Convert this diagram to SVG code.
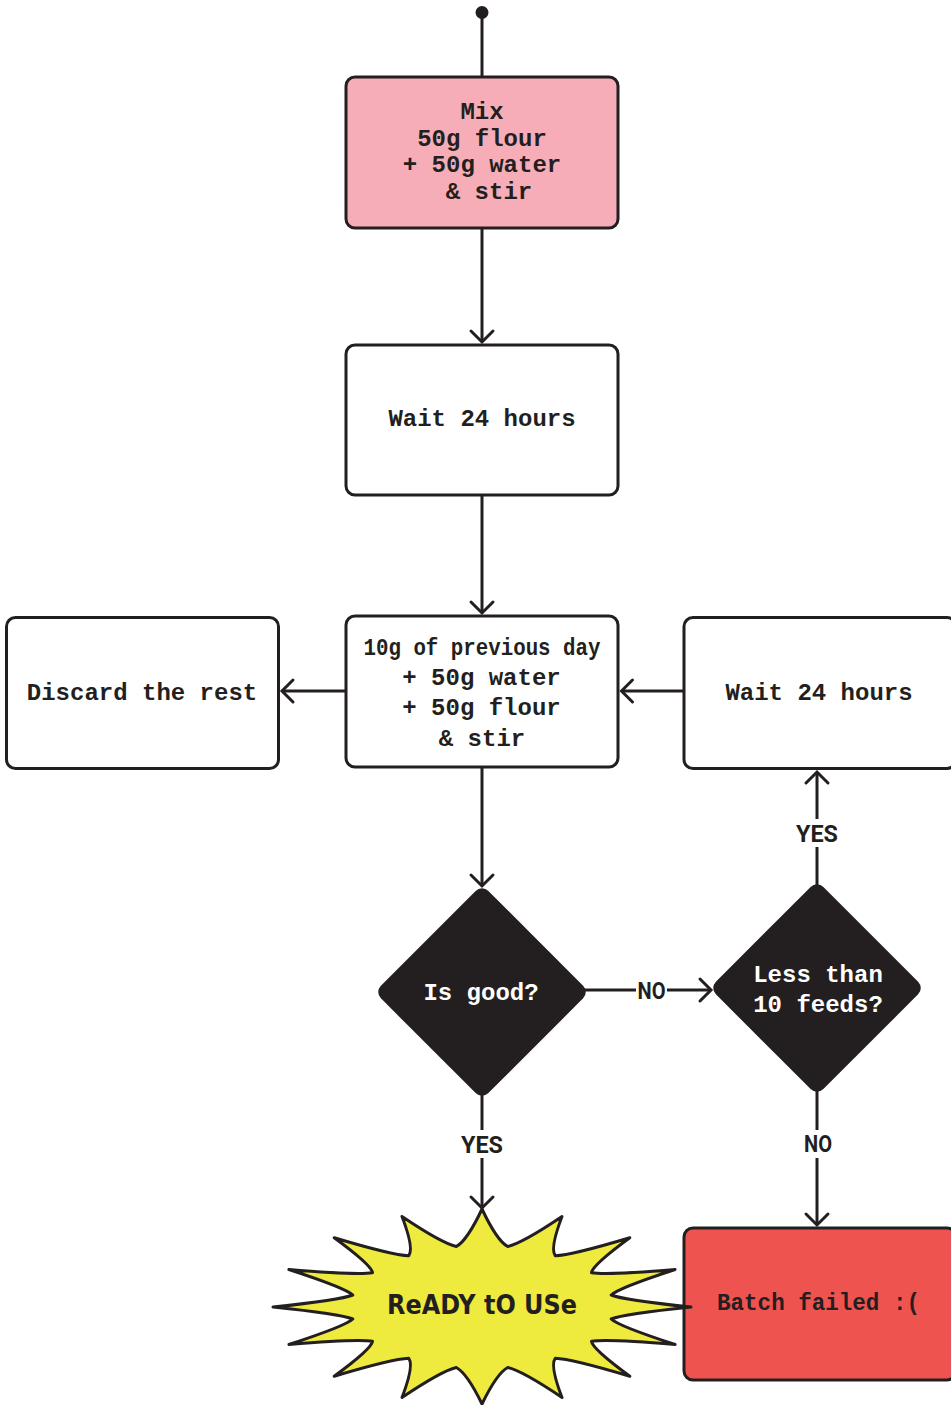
<svg xmlns="http://www.w3.org/2000/svg" width="951" height="1405" viewBox="0 0 951 1405">
<style>
.box{stroke:#231f20;stroke-width:3}
.t{font-family:"Liberation Mono","DejaVu Sans Mono",monospace;font-weight:700;font-size:24px;fill:#231f20;text-anchor:middle}
.tw{fill:#ffffff}
.ln{fill:none;stroke:#231f20;stroke-width:3}
.lbl{font-family:Roboto,"Liberation Sans",sans-serif;font-weight:700;font-size:24px;fill:#231f20;text-anchor:middle}
</style>
<defs>
<marker id="arr" markerWidth="30" markerHeight="30" refX="15" refY="15" orient="auto" markerUnits="userSpaceOnUse" viewBox="0 0 30 30" overflow="visible">
<path d="M4,4 L15,15 L4,26" fill="none" stroke="#231f20" stroke-width="3" stroke-linecap="round"/>
</marker>
</defs>
<rect width="951" height="1405" fill="#ffffff"/>

<g id="start"><circle cx="482" cy="12.5" r="6.5" fill="#231f20"/></g>

<g id="mix">
<rect class="box" x="346" y="77" width="272" height="151" rx="9" fill="#f7adb7"/>
<text class="t" x="482" y="119">Mix</text>
<text class="t" x="482" y="145.5">50g flour</text>
<text class="t" x="482" y="172">+ 50g water</text>
<text class="t" x="489" y="198.5">&amp; stir</text>
</g>

<g id="wait1">
<rect class="box" x="346" y="345" width="272" height="150" rx="9" fill="#ffffff"/>
<text class="t" x="482" y="426">Wait 24 hours</text>
</g>

<g id="feed">
<rect class="box" x="346" y="616" width="272" height="151" rx="9" fill="#ffffff"/>
<text class="t" x="482" y="655" textLength="237" lengthAdjust="spacingAndGlyphs">10g of previous day</text>
<text class="t" x="481.5" y="684.5">+ 50g water</text>
<text class="t" x="481.5" y="715">+ 50g flour</text>
<text class="t" x="482" y="745.5">&amp; stir</text>
</g>

<g id="discard">
<rect class="box" x="6.5" y="617.5" width="272" height="151" rx="9" fill="#ffffff"/>
<text class="t" x="142" y="700">Discard the rest</text>
</g>

<g id="wait2">
<rect class="box" x="684" y="617.5" width="272" height="151" rx="9" fill="#ffffff"/>
<text class="t" x="819" y="700">Wait 24 hours</text>
</g>

<g id="isgood">
<rect x="-76" y="-76" width="152" height="152" rx="9" fill="#231f20" transform="translate(482,992) rotate(45)"/>
<text class="t tw" x="481" y="1000">Is good?</text>
</g>

<g id="lessthan">
<rect x="-76" y="-76" width="152" height="152" rx="9" fill="#231f20" transform="translate(817,988) rotate(45)"/>
<text class="t tw" x="818" y="982">Less than</text>
<text class="t tw" x="818" y="1012">10 feeds?</text>
</g>

<g id="failed">
<rect class="box" x="684" y="1228" width="272" height="152" rx="9" fill="#ef5350"/>
<text class="t" x="717" y="1310" style="text-anchor:start" textLength="203" lengthAdjust="spacingAndGlyphs">Batch failed :(</text>
</g>

<g id="ready">
<path fill="#efea3e" stroke="#231f20" stroke-width="3" stroke-linejoin="round" d="M482,1209 Q496.9,1240.7 507.7,1246.5 Q522.4,1243.1 562,1216.5 Q549.8,1248.4 555.2,1255.7 Q571.4,1255.2 629.8,1237.7 Q592.4,1265.1 591.5,1272.7 Q606.9,1275.2 675.1,1269.5 Q618.2,1288.1 611.2,1295 Q623.3,1300 691,1307 Q623.3,1314 611.2,1319 Q618.2,1325.9 675.1,1344.5 Q606.9,1338.8 591.5,1341.3 Q592.4,1348.9 629.8,1376.3 Q571.4,1358.8 555.2,1358.3 Q549.8,1365.6 562,1397.5 Q522.4,1370.9 507.7,1367.5 Q496.9,1373.3 482,1404 Q467.1,1373.3 456.3,1367.5 Q441.6,1370.9 402,1397.5 Q414.2,1365.6 408.8,1358.3 Q392.6,1358.8 334.2,1376.3 Q371.6,1348.9 372.5,1341.3 Q357.1,1338.8 288.9,1344.5 Q345.8,1325.9 352.8,1319 Q340.7,1314 273,1307 Q340.7,1300 352.8,1295 Q345.8,1288.1 288.9,1269.5 Q357.1,1275.2 372.5,1272.7 Q371.6,1265.1 334.2,1237.7 Q392.6,1255.2 408.8,1255.7 Q414.2,1248.4 402,1216.5 Q441.6,1243.1 456.3,1246.5 Q467.1,1240.7 482,1209 Z"/>
<text x="482" y="1314" text-anchor="middle" font-family="'DejaVu Sans',sans-serif" font-weight="700" font-size="26" fill="#231f20" textLength="190" lengthAdjust="spacingAndGlyphs">ReADY tO USe</text>
</g>

<g id="connectors">
<line class="ln" x1="482" y1="12" x2="482" y2="77"/>
<line class="ln" x1="482" y1="228" x2="482" y2="342" marker-end="url(#arr)"/>
<line class="ln" x1="482" y1="495" x2="482" y2="613" marker-end="url(#arr)"/>
<line class="ln" x1="346" y1="691" x2="282" y2="691" marker-end="url(#arr)"/>
<line class="ln" x1="684" y1="691" x2="621.5" y2="691" marker-end="url(#arr)"/>
<line class="ln" x1="482" y1="767" x2="482" y2="886" marker-end="url(#arr)"/>
<line class="ln" x1="584" y1="990" x2="636" y2="990"/>
<line class="ln" x1="667" y1="990" x2="711" y2="990" marker-end="url(#arr)"/>
<text class="lbl" x="651.5" y="999" textLength="28" lengthAdjust="spacingAndGlyphs">NO</text>
<line class="ln" x1="817" y1="886" x2="817" y2="847"/>
<line class="ln" x1="817" y1="819" x2="817" y2="772" marker-end="url(#arr)"/>
<text class="lbl" x="817" y="842" textLength="42" lengthAdjust="spacingAndGlyphs">YES</text>
<line class="ln" x1="482" y1="1094" x2="482" y2="1130"/>
<line class="ln" x1="482" y1="1158" x2="482" y2="1208" marker-end="url(#arr)"/>
<text class="lbl" x="482" y="1153" textLength="42" lengthAdjust="spacingAndGlyphs">YES</text>
<line class="ln" x1="817" y1="1090" x2="817" y2="1130"/>
<line class="ln" x1="817" y1="1158" x2="817" y2="1225" marker-end="url(#arr)"/>
<text class="lbl" x="818" y="1152" textLength="28" lengthAdjust="spacingAndGlyphs">NO</text>
</g>
</svg>
